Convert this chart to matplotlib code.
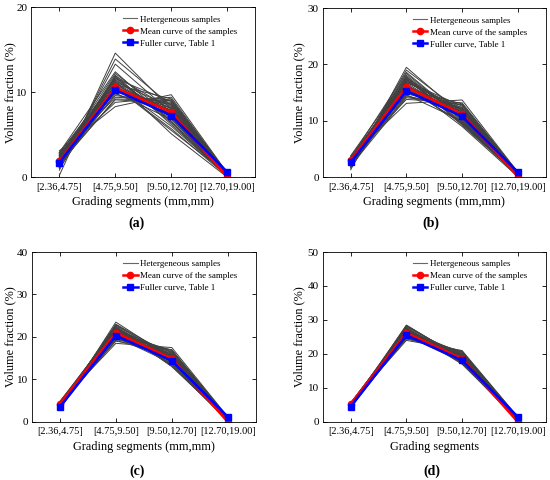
import matplotlib
matplotlib.use('Agg')
import matplotlib.pyplot as plt
from matplotlib.lines import Line2D
import numpy as np

plt.rcParams['font.family'] = ['Liberation Serif', 'DejaVu Serif']

segments = ['[2.36,4.75]', '[4.75,9.50]', '[9.50,12.70]', '[12.70,19.00]']

# panel (a)
samples_a = [
    [0.2, 14.6, 8.0, 0.1], [0.8, 13.9, 8.4, 0.2], [1.2, 13.3, 7.6, 0.0],
    [2.9, 12.4, 6.5, 0.3], [3.1, 8.3, 9.7, 0.5], [2.6, 8.8, 9.4, 0.4],
    [1.5, 9.2, 9.0, 0.2], [2.2, 9.6, 8.8, 0.3], [1.9, 10.0, 8.5, 0.1],
    [2.5, 10.4, 8.1, 0.4], [1.4, 10.8, 7.8, 0.2], [2.0, 11.1, 7.4, 0.0],
    [2.8, 11.5, 7.0, 0.3], [1.1, 11.8, 6.6, 0.1], [1.7, 12.0, 6.2, 0.2],
    [2.4, 11.3, 5.1, 0.0], [1.0, 10.9, 9.2, 0.5], [2.7, 9.9, 6.8, 0.3],
    [1.6, 10.6, 5.7, 0.1], [2.1, 11.6, 8.9, 0.4], [1.3, 10.2, 8.2, 0.2],
    [2.3, 11.0, 7.1, 0.3], [1.8, 10.5, 7.9, 0.1], [2.6, 10.7, 6.9, 0.2],
    [1.5, 11.4, 7.3, 0.3], [2.2, 10.1, 8.6, 0.2], [1.9, 11.7, 6.4, 0.1],
    [2.5, 9.4, 9.1, 0.4], [1.2, 10.3, 7.7, 0.0], [2.0, 10.8, 6.0, 0.2],
    [2.8, 11.2, 8.3, 0.5], [1.4, 9.8, 7.5, 0.1], [2.3, 12.2, 7.2, 0.3],
    [1.7, 9.1, 8.7, 0.2], [2.9, 10.6, 5.5, 0.4], [1.1, 11.9, 8.0, 0.0],
]
mean_a = [1.85, 10.55, 7.65, 0.0]
fuller_a = [1.7, 10.25, 7.25, 0.6]

# panel (b)
samples_b = [
    [1.3, 19.5, 11.0, 0.2], [1.8, 19.0, 11.5, 0.4], [2.2, 18.4, 10.2, 0.1],
    [3.8, 17.8, 9.4, 0.6], [3.6, 13.1, 13.7, 0.9], [3.3, 13.8, 13.2, 0.8],
    [2.4, 14.3, 12.8, 0.5], [2.9, 14.8, 12.4, 0.7], [2.6, 15.3, 12.0, 0.3],
    [3.1, 15.8, 11.6, 0.8], [2.0, 16.3, 11.2, 0.4], [2.7, 16.7, 10.7, 0.2],
    [3.5, 17.2, 10.3, 0.6], [1.9, 17.5, 9.8, 0.3], [2.5, 17.9, 9.2, 0.5],
    [3.2, 16.5, 9.0, 0.1], [1.7, 15.6, 13.0, 0.9], [3.4, 14.6, 10.0, 0.6],
    [2.3, 16.0, 9.5, 0.2], [2.8, 17.0, 12.6, 0.7], [2.1, 15.1, 11.8, 0.4],
    [3.0, 16.2, 10.5, 0.5], [2.6, 15.5, 11.3, 0.3], [3.3, 16.9, 11.9, 0.6],
    [2.4, 17.3, 11.1, 0.4], [3.1, 15.0, 12.2, 0.7], [2.7, 18.1, 10.0, 0.2],
    [2.0, 14.1, 12.9, 0.8], [3.6, 16.4, 10.9, 0.5], [2.2, 17.6, 11.4, 0.3],
    [2.9, 15.7, 9.7, 0.6], [3.4, 18.6, 10.4, 0.1], [1.6, 16.8, 12.3, 0.5],
    [2.5, 14.5, 11.7, 0.9], [3.0, 17.4, 9.6, 0.4], [2.8, 16.1, 12.1, 0.2],
]
mean_b = [3.0, 16.0, 11.2, 0.1]
fuller_b = [2.6, 15.3, 10.8, 0.9]

# panel (c)
samples_c = [
    [3.0, 23.5, 15.0, 0.3], [3.3, 23.0, 15.6, 0.5], [3.6, 22.6, 14.2, 0.2],
    [4.8, 22.0, 13.2, 0.8], [4.6, 18.5, 17.5, 1.2], [4.4, 19.0, 17.0, 1.0],
    [3.7, 19.4, 16.6, 0.7], [4.1, 19.8, 16.2, 0.9], [3.9, 20.2, 15.8, 0.4],
    [4.3, 20.6, 15.4, 1.0], [3.5, 21.0, 15.0, 0.5], [4.0, 21.3, 14.6, 0.3],
    [4.6, 21.7, 14.1, 0.8], [3.4, 22.0, 13.6, 0.4], [3.8, 22.3, 13.0, 0.6],
    [4.2, 21.5, 13.3, 0.2], [3.2, 20.8, 16.9, 1.1], [4.5, 20.0, 13.8, 0.7],
    [3.6, 20.9, 14.4, 0.3], [4.0, 21.8, 16.4, 0.9], [3.8, 20.4, 15.2, 0.5],
    [4.4, 21.1, 14.8, 0.6], [4.1, 20.6, 15.9, 0.4], [4.7, 21.9, 15.5, 0.8],
    [3.9, 22.4, 14.0, 0.5], [4.2, 19.6, 16.0, 0.9], [3.5, 21.4, 13.5, 0.3],
    [4.6, 20.3, 16.8, 1.1], [3.7, 22.8, 14.9, 0.2], [4.3, 21.6, 15.7, 0.7],
    [3.3, 20.1, 14.3, 0.6], [4.5, 22.2, 13.9, 0.4], [4.0, 19.2, 15.3, 1.0],
    [3.6, 21.2, 16.3, 0.8], [4.8, 20.7, 14.7, 0.3], [3.9, 22.9, 15.1, 0.5],
]
mean_c = [4.3, 21.0, 14.9, 0.0]
fuller_c = [3.5, 20.3, 14.4, 1.2]

# panel (d)
samples_d = [
    [4.0, 28.5, 18.6, 0.4], [4.3, 28.0, 19.3, 0.6], [4.5, 27.6, 17.8, 0.3],
    [5.6, 27.1, 17.0, 1.0], [5.4, 24.0, 21.0, 1.5], [5.2, 24.4, 20.5, 1.3],
    [4.6, 24.8, 20.1, 0.9], [5.0, 25.2, 19.8, 1.1], [4.8, 25.6, 19.4, 0.5],
    [5.1, 26.0, 19.0, 1.2], [4.4, 26.3, 18.6, 0.6], [4.9, 26.6, 18.2, 0.4],
    [5.5, 27.0, 17.7, 1.0], [4.3, 27.3, 17.3, 0.5], [4.7, 27.5, 17.1, 0.7],
    [5.0, 26.8, 17.4, 0.3], [4.2, 26.1, 20.6, 1.4], [5.3, 25.4, 17.6, 0.9],
    [4.5, 26.2, 18.0, 0.4], [4.9, 27.1, 20.2, 1.1], [4.7, 25.8, 18.8, 0.6],
    [5.2, 26.5, 18.4, 0.8], [4.9, 25.9, 19.6, 0.5], [5.4, 27.2, 19.1, 1.0],
    [4.6, 27.8, 18.3, 0.7], [5.1, 24.6, 19.9, 1.2], [4.4, 26.9, 17.5, 0.4],
    [5.3, 25.1, 20.8, 1.3], [4.8, 28.2, 18.9, 0.3], [5.0, 26.4, 19.2, 0.8],
    [4.2, 25.3, 18.1, 0.9], [5.5, 27.4, 17.9, 0.6], [4.7, 24.9, 19.5, 1.4],
    [4.5, 26.7, 20.0, 1.0], [5.6, 25.7, 18.5, 0.5], [4.9, 28.4, 18.7, 0.7],
]
mean_d = [5.3, 26.2, 18.6, 0.0]
fuller_d = [4.5, 25.5, 18.1, 1.5]

panels = [
    (samples_a, mean_a, fuller_a, 20, 'Grading segments (mm,mm)', '(a)'),
    (samples_b, mean_b, fuller_b, 30, 'Grading segments (mm,mm)', '(b)'),
    (samples_c, mean_c, fuller_c, 40, 'Grading segments (mm,mm)', '(c)'),
    (samples_d, mean_d, fuller_d, 50, 'Grading segments', '(d)'),
]

# axes boxes in figure fractions
boxes = [
    [0.057, 0.631, 0.407, 0.354],
    [0.587, 0.631, 0.405, 0.352],
    [0.058, 0.121, 0.407, 0.354],
    [0.587, 0.121, 0.405, 0.354],
]
captions = [(0.249, 0.527), (0.784, 0.527), (0.249, 0.011), (0.785, 0.011)]
ylab_x = [-0.069, -0.077, -0.069, -0.077]

fig = plt.figure(figsize=(5.5, 4.8), dpi=100)
x = np.arange(1, 5)

for (samples, mean, fuller, ymax, xlab, cap), box, cpos, yx in zip(panels, boxes, captions, ylab_x):
    ax = fig.add_axes(box)
    for s in samples:
        ax.plot(x, s, color='0.25', lw=0.7)
    ax.plot(x, mean, color='red', lw=1.8, marker='o', ms=4.5)
    ax.plot(x, fuller, color='blue', lw=1.8, marker='s', ms=4.5)
    ax.set_xlim(0.5, 4.5)
    ax.set_ylim(0, ymax)
    ax.set_yticks([0, 10, 20, 30, 40, 50][:ymax // 10 + 1])
    ax.set_xticks(x)
    ax.set_xticklabels(segments)
    ax.tick_params(direction='in', labelsize=7.5, length=3, width=0.6,
                   top=True, right=True, labeltop=False, labelright=False, pad=4)
    ax.tick_params(axis='y', labelsize=8.0, pad=3)
    for sp in ax.spines.values():
        sp.set_linewidth(0.6)
    ax.set_xlabel(xlab, fontsize=8.8, labelpad=3)
    ax.set_ylabel('Volume fraction (%)', fontsize=8.8)
    ax.yaxis.set_label_coords(yx, 0.5)
    handles = [
        Line2D([], [], color='0.4', lw=0.8),
        Line2D([], [], color='red', lw=1.8, marker='o', ms=4.5),
        Line2D([], [], color='blue', lw=1.8, marker='s', ms=4.5),
    ]
    ax.legend(handles, ['Hetergeneous samples', 'Mean curve of the samples',
                        'Fuller curve, Table 1'],
              loc='upper right', bbox_to_anchor=(0.955, 1.0), frameon=False,
              fontsize=6.5, handlelength=1.6, handletextpad=0.3,
              labelspacing=0.4, borderaxespad=0.5)
    fig.text(cpos[0], cpos[1], cap, fontsize=10, fontweight='bold', ha='center')

fig.savefig('out.png', dpi=100)
